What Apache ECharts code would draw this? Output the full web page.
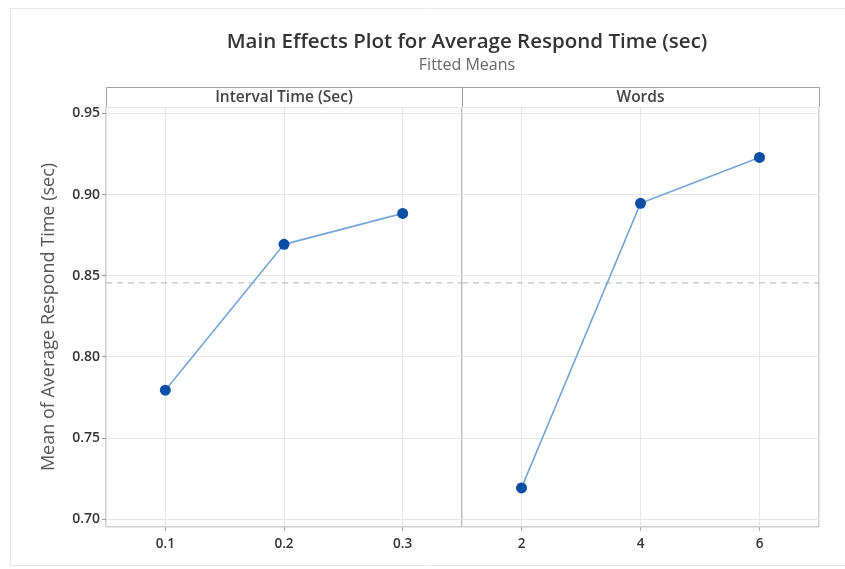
<!DOCTYPE html>
<html><head><meta charset="utf-8">
<script src="https://cdn.jsdelivr.net/npm/echarts@6/dist/echarts.min.js"></script>
<style>html,body{margin:0;padding:0;background:#fff}#c{width:845px;height:569px}</style>
</head><body><div id="c"></div>
<script>
const intervalLevels = [0.1, 0.2, 0.3];
const intervalMeans = [0.7794, 0.8693, 0.8884];
const wordLevels = [2, 4, 6];
const wordMeans = [0.7191, 0.8946, 0.9229];
const grandMean = 0.8456;
const panelTitles = ['Interval Time (Sec)', 'Words'];
const yTicks = [0.70, 0.75, 0.80, 0.85, 0.90, 0.95];

const FONT = '"Open Sans", "Noto Sans", sans-serif';
const chart = echarts.init(document.getElementById('c'));
const isTick = (v, arr) => arr.some(t => Math.abs(t - v) < 1e-6);
const yMin = 0.695, yMax = 0.954;
const xRanges = [[0.05, 0.35], [1, 7]];
const gridTop = 107, gridH = 420;
const L = 106, mid = 462, R = 819;

const commonX = {
  type: 'value', splitNumber: 3,
  axisLine: { show: false },
  axisTick: { show: true, length: 4, lineStyle: { color: '#aaa' } },
  splitLine: { show: true, lineStyle: { color: '#e6e6e6', width: 1 } },
  axisLabel: { color: '#333', fontFamily: FONT, fontSize: 13.5, fontWeight: 600, margin: 10, showMinLabel: false, showMaxLabel: false }
};

const meanLine = (idx, range) => ({
  type: 'line', xAxisIndex: idx, yAxisIndex: idx, silent: true, symbol: 'none', z: 1,
  data: [[range[0], grandMean], [range[1], grandMean]],
  lineStyle: { color: '#c4c4c4', type: [6, 5], width: 1.3 }
});

chart.setOption({
  backgroundColor: '#fff',
  animation: false,
  title: [
    { text: 'Main Effects Plot for Average Respond Time (sec)', left: 462, top: 27, textAlign: 'center',
      textStyle: { fontFamily: FONT, fontSize: 20.5, fontWeight: 600, color: '#333' } },
    { text: 'Fitted Means', left: 462, top: 52, textAlign: 'center',
      textStyle: { fontFamily: FONT, fontSize: 16, fontWeight: 400, color: '#666' } }
  ],
  grid: [
    { left: L, width: mid - L, top: gridTop, height: gridH, show: true, borderColor: '#a0a0a0', borderWidth: 1, backgroundColor: '#fff' },
    { left: mid, width: R - mid, top: gridTop, height: gridH, show: true, borderColor: '#a0a0a0', borderWidth: 1, backgroundColor: '#fff' }
  ],
  xAxis: [
    Object.assign({}, commonX, { gridIndex: 0, min: xRanges[0][0], max: xRanges[0][1],
      axisLabel: Object.assign({}, commonX.axisLabel, { formatter: v => isTick(v, intervalLevels) ? v.toFixed(1) : '' }) }),
    Object.assign({}, commonX, { gridIndex: 1, min: xRanges[1][0], max: xRanges[1][1],
      axisLabel: Object.assign({}, commonX.axisLabel, { formatter: v => isTick(v, wordLevels) ? String(Math.round(v)) : '' }) })
  ],
  yAxis: [
    { type: 'value', gridIndex: 0, min: yMin, max: yMax, splitNumber: 5,
      name: 'Mean of Average Respond Time (sec)', nameLocation: 'middle', nameGap: 48, nameRotate: 90,
      nameTextStyle: { fontFamily: FONT, fontSize: 18, color: '#555' },
      axisLine: { show: false },
      axisTick: { show: true, length: 4, lineStyle: { color: '#999' } },
      splitLine: { show: true, lineStyle: { color: '#e6e6e6' } },
      axisLabel: { color: '#333', fontFamily: FONT, fontSize: 14, fontWeight: 600, margin: 6, showMinLabel: false, showMaxLabel: false,
        formatter: v => isTick(v, yTicks) ? v.toFixed(2) : '' } },
    { type: 'value', gridIndex: 1, min: yMin, max: yMax, splitNumber: 5,
      axisLine: { show: false }, axisTick: { show: false }, axisLabel: { show: false },
      splitLine: { show: true, lineStyle: { color: '#e6e6e6' } } }
  ],
  series: [
    meanLine(0, xRanges[0]),
    meanLine(1, xRanges[1]),
    { type: 'line', xAxisIndex: 0, yAxisIndex: 0, z: 3,
      data: intervalLevels.map((x, i) => [x, intervalMeans[i]]),
      symbol: 'circle', symbolSize: 11,
      lineStyle: { color: '#76a5d8', width: 1.6 },
      itemStyle: { color: '#0a4fa3' } },
    { type: 'line', xAxisIndex: 1, yAxisIndex: 1, z: 3,
      data: wordLevels.map((x, i) => [x, wordMeans[i]]),
      symbol: 'circle', symbolSize: 11,
      lineStyle: { color: '#76a5d8', width: 1.6 },
      itemStyle: { color: '#0a4fa3' } }
  ],
  graphic: [
    { type: 'rect', shape: { x: 10.5, y: 8.5, width: 840, height: 557 }, style: { fill: 'none', stroke: '#e8e8e8', lineWidth: 1 }, silent: true },
    { type: 'rect', shape: { x: L + 0.5, y: 87.5, width: mid - L, height: 20 }, style: { fill: '#fff', stroke: '#a0a0a0', lineWidth: 1 }, silent: true },
    { type: 'rect', shape: { x: mid + 0.5, y: 87.5, width: R - mid, height: 20 }, style: { fill: '#fff', stroke: '#a0a0a0', lineWidth: 1 }, silent: true },
    { type: 'text', x: (L + mid) / 2, y: 98, style: { text: panelTitles[0], fill: '#444', font: '600 15.5px ' + FONT, textAlign: 'center', textVerticalAlign: 'middle' }, silent: true },
    { type: 'text', x: (mid + R) / 2, y: 98, style: { text: panelTitles[1], fill: '#444', font: '600 15.5px ' + FONT, textAlign: 'center', textVerticalAlign: 'middle' }, silent: true }
  ]
});
</script></body></html>
